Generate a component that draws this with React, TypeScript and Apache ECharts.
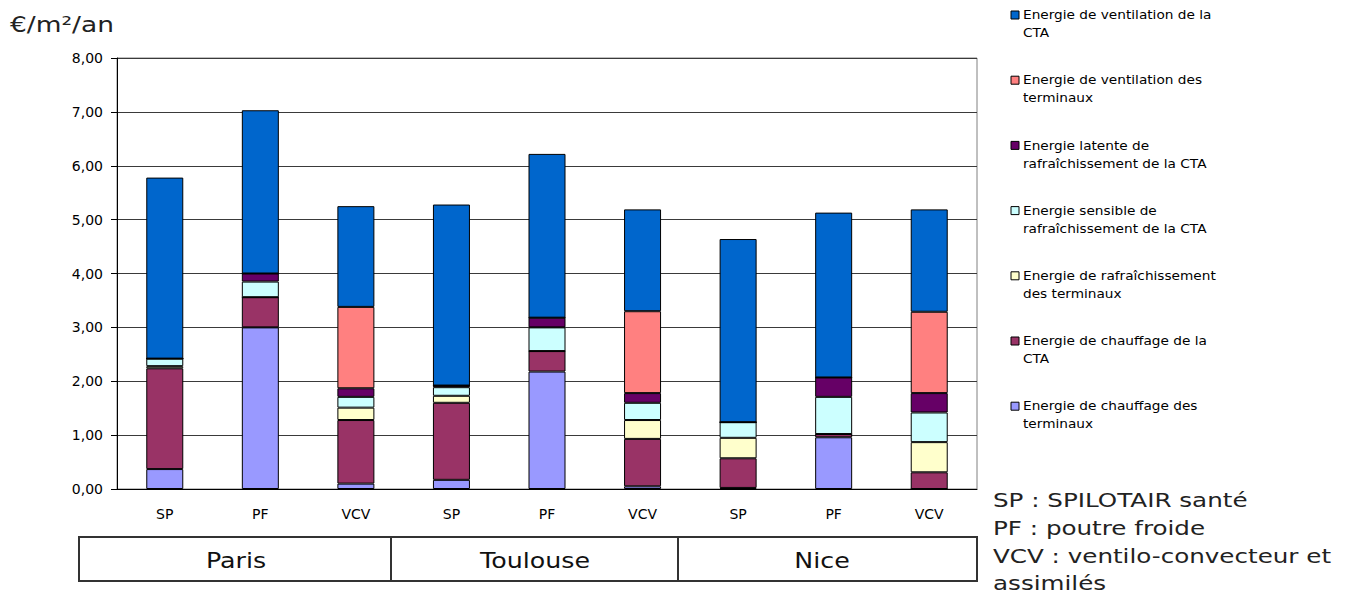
import React, { useEffect, useRef } from "react";
import * as echarts from "echarts";

// ---- Data ----
const categories = ["SP", "PF", "VCV", "SP", "PF", "VCV", "SP", "PF", "VCV"];
const cities = ["Paris", "Toulouse", "Nice"];

const chauffageTerminaux = [0.37, 3.0, 0.1, 0.17, 2.18, 0.05, 0.02, 0.96, 0];
const chauffageCTA = [1.87, 0.56, 1.18, 1.43, 0.38, 0.88, 0.55, 0.06, 0.31];
const rafraichTerminaux = [0.04, 0, 0.23, 0.13, 0, 0.35, 0.38, 0, 0.56];
const sensibleCTA = [0.14, 0.29, 0.2, 0.16, 0.44, 0.32, 0.29, 0.69, 0.55];
const latenteCTA = [0, 0.15, 0.16, 0.03, 0.18, 0.18, 0, 0.36, 0.36];
const ventilationTerminaux = [0, 0, 1.51, 0, 0, 1.52, 0, 0, 1.51];
const ventilationCTA = [3.36, 3.03, 1.87, 3.36, 3.04, 1.89, 3.4, 3.06, 1.9];

const seriesNames = [
  "Energie de chauffage des terminaux",
  "Energie de chauffage de la CTA",
  "Energie de rafraîchissement des terminaux",
  "Energie sensible de rafraîchissement de la CTA",
  "Energie latente de rafraîchissement de la CTA",
  "Energie de ventilation des terminaux",
  "Energie de ventilation de la CTA",
];
const legendLabels = [
  "Energie de chauffage des\nterminaux",
  "Energie de chauffage de la\nCTA",
  "Energie de rafraîchissement\ndes terminaux",
  "Energie sensible de\nrafraîchissement de la CTA",
  "Energie latente de\nrafraîchissement de la CTA",
  "Energie de ventilation des\nterminaux",
  "Energie de ventilation de la\nCTA",
];
const seriesData = [
  chauffageTerminaux,
  chauffageCTA,
  rafraichTerminaux,
  sensibleCTA,
  latenteCTA,
  ventilationTerminaux,
  ventilationCTA,
];
const seriesColors = ["#9999FF", "#993366", "#FFFFCC", "#CCFFFF", "#660066", "#FF8080", "#0066CC"];

const yTitle = "€/m²/an";
const notes = [
  "SP : SPILOTAIR santé",
  "PF : poutre froide",
  "VCV : ventilo-convecteur et",
  "assimilés",
];

export default function App() {
  const ref = useRef<HTMLDivElement>(null);

  useEffect(() => {
    document.body.style.margin = "0";
    if (!ref.current) return;
    const chart = echarts.init(ref.current, undefined, { renderer: "svg" });

    const graphics: any[] = [];
    // title
    graphics.push({
      type: "text",
      x: 10,
      y: 25,
      scaleX: 1.26,
      style: {
        text: yTitle,
        font: "21px 'DejaVu Sans'",
        fill: "#222",
        textVerticalAlign: "middle",
      },
    });
    // legend (reverse order, top = last series)
    const legendOrder = [6, 5, 4, 3, 2, 1, 0];
    legendOrder.forEach((si, i) => {
      const yc = 15 + i * 65.2;
      graphics.push({
        type: "rect",
        shape: { x: 1011, y: yc - 4, width: 8, height: 8 },
        style: { fill: seriesColors[si], stroke: "#000", lineWidth: 1 },
      });
      graphics.push({
        type: "text",
        x: 1023,
        y: yc - 9,
        scaleX: 1.14,
        style: {
          text: legendLabels[si],
          font: "12px 'DejaVu Sans'",
          fill: "#000",
          lineHeight: 18,
          textVerticalAlign: "top",
        },
      });
    });
    // city box
    graphics.push({
      type: "rect",
      shape: { x: 79, y: 537, width: 898, height: 44 },
      style: { fill: "none", stroke: "#333", lineWidth: 2 },
    });
    [391, 678].forEach((x) => {
      graphics.push({
        type: "line",
        shape: { x1: x, y1: 537, x2: x, y2: 581 },
        style: { stroke: "#333", lineWidth: 2 },
      });
    });
    const cityCenters = [236, 535, 822];
    cities.forEach((c, i) => {
      graphics.push({
        type: "text",
        x: cityCenters[i],
        y: 561,
        scaleX: 1.15,
        style: {
          text: c,
          font: "22px 'DejaVu Sans'",
          fill: "#111",
          textAlign: "center",
          textVerticalAlign: "middle",
        },
      });
    });
    // notes
    notes.forEach((t, i) => {
      graphics.push({
        type: "text",
        x: 993,
        y: 500 + i * 27.7,
        scaleX: 1.23,
        style: {
          text: t,
          font: "20px 'DejaVu Sans'",
          fill: "#222",
          textVerticalAlign: "middle",
        },
      });
    });

    chart.setOption({
      animation: false,
      backgroundColor: "#fff",
      grid: {
        left: 117,
        right: 373,
        top: 58,
        bottom: 105,
        show: true,
        borderColor: "#808080",
        borderWidth: 1,
        containLabel: false,
      },
      xAxis: {
        type: "category",
        data: categories,
        axisLine: { lineStyle: { color: "#000", width: 1 } },
        axisTick: { length: 5, lineStyle: { color: "#000" } },
        axisLabel: {
          margin: 18,
          color: "#000",
          fontFamily: "DejaVu Sans",
          fontSize: 14,
        },
      },
      yAxis: {
        type: "value",
        min: 0,
        max: 8,
        interval: 1,
        axisLine: { show: true, lineStyle: { color: "#000", width: 1 } },
        axisTick: { show: true, length: 6, lineStyle: { color: "#000" } },
        axisLabel: {
          margin: 14,
          color: "#000",
          fontFamily: "DejaVu Sans",
          fontSize: 14,
          formatter: (v: number) => v.toFixed(2).replace(".", ","),
        },
        splitLine: { lineStyle: { color: "#3a3a3a", width: 1 } },
      },
      series: seriesData.map((d, i) => ({
        name: seriesNames[i],
        type: "bar",
        stack: "total",
        barWidth: 37,
        data: d,
        itemStyle: { color: seriesColors[i], borderColor: "#000", borderWidth: 1 },
        emphasis: { disabled: true },
      })),
      graphic: graphics,
    });

    return () => chart.dispose();
  }, []);

  return <div ref={ref} style={{ width: 1350, height: 594 }} />;
}
